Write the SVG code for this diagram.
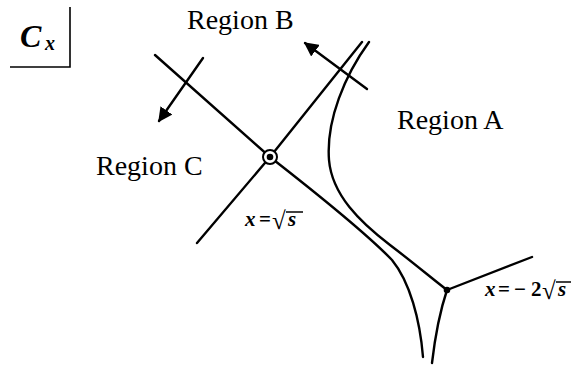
<svg xmlns="http://www.w3.org/2000/svg" width="572" height="365" viewBox="0 0 572 365">
<style>
.ln{fill:none;stroke:#000;stroke-width:2.4;stroke-linecap:round;stroke-linejoin:round}
.box{fill:none;stroke:#000;stroke-width:1.6}
.rg{font-family:"Liberation Serif",serif;font-size:28px;fill:#000}
.m{font-family:"Liberation Serif",serif;font-size:21px;font-weight:bold;fill:#000}
.mi{font-style:italic}
.rad{font-size:25px}
.bar{stroke:#000;stroke-width:1.5}
</style>
<defs>
<marker id="ah" viewBox="0 0 10 10" refX="9" refY="5" markerWidth="6" markerHeight="6" orient="auto" markerUnits="strokeWidth">
<path d="M0,0 L10,5 L0,10 Z" fill="#000"/>
</marker>
</defs>
<rect width="572" height="365" fill="#fff"/>
<g id="title">
<path class="box" d="M70,7 L70,67 L10,67"/>
<text x="20" y="47" font-family="Liberation Serif,serif" font-size="32" font-style="italic" font-weight="bold">C</text>
<text x="45" y="50" font-family="Liberation Serif,serif" font-size="20" font-style="italic" font-weight="bold">x</text>
</g>
<g id="connectors">
<path class="ln" d="M155,55 L270,157 C320,196 365,232 392,260 C410,282 420,320 423,357"/>
<path class="ln" d="M197,243 L270,157 L362,42"/>
<path class="ln" d="M369,42 C345,75 326,120 329,160 C332,195 360,222 390,245 C415,264 435,281 447,290"/>
<path class="ln" d="M447,290 L532,257"/>
<path class="ln" d="M447,290 Q437,320 432,363"/>
<path class="ln" d="M203,58 L159,121" marker-end="url(#ah)"/>
<path class="ln" d="M367,89 L305,43" marker-end="url(#ah)"/>
</g>
<g id="node-sqrt">
<circle cx="270" cy="157" r="7" fill="#fff" stroke="#000" stroke-width="2"/>
<circle cx="270" cy="157" r="3.3" fill="#000"/>
</g>
<g id="node-m2sqrt">
<circle cx="447" cy="290" r="3.3" fill="#000"/>
</g>
<g id="labels">
<text class="rg" x="187" y="29">Region B</text>
<text class="rg" x="397" y="129">Region A</text>
<text class="rg" x="96" y="175">Region C</text>
<text class="m"><tspan class="mi" x="245" y="226">x</tspan><tspan x="259" y="226">=</tspan><tspan class="rad" x="272" y="229">√</tspan><tspan class="mi" x="288" y="226">s</tspan></text>
<line class="bar" x1="286" y1="212" x2="303" y2="212"/>
<text class="m"><tspan class="mi" x="485" y="296">x</tspan><tspan x="498" y="296">=</tspan><tspan x="514" y="296">−</tspan><tspan x="531" y="296">2</tspan><tspan class="rad" x="542" y="299">√</tspan><tspan class="mi" x="558" y="296">s</tspan></text>
<line class="bar" x1="556" y1="282" x2="571" y2="282"/>
</g>
</svg>
